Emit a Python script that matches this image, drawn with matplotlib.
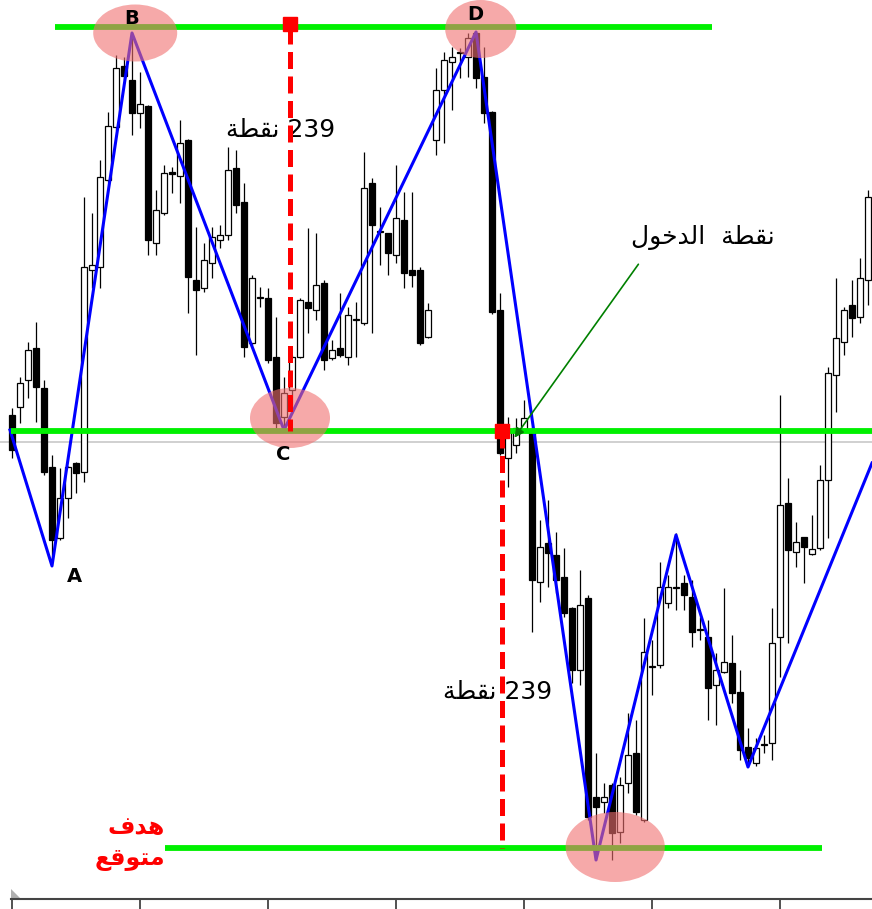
import numpy as np
import matplotlib
matplotlib.use("Agg")
import matplotlib.pyplot as plt
from matplotlib.patches import Rectangle, Ellipse, Polygon

# ======================================================
# Candle data (bar index 0..107), price units
# ======================================================
opens = [585, 593, 620, 652, 612, 533, 462, 502, 537, 528,
         730, 733, 820, 873, 934, 920, 887, 894, 757, 787,
         828, 824, 860, 720, 712, 737, 760, 765, 832, 798,
         657, 702, 702, 643, 583, 610, 643, 698, 690, 717,
         642, 652, 643, 680, 677, 817, 768, 767, 745, 780,
         730, 730, 663, 860, 910, 938, 947, 943, 967, 923,
         888, 690, 542, 555, 570, 570, 418, 457, 445, 423,
         392, 330, 402, 203, 198, 215, 168, 217, 247, 180,
         333, 335, 397, 412, 417, 403, 370, 363, 315, 328,
         337, 308, 253, 237, 255, 257, 363, 497, 448, 463,
         446, 452, 520, 625, 658, 695, 683, 720]
highs = [592, 623, 658, 678, 620, 545, 532, 534, 538, 803,
         787, 840, 888, 945, 943, 966, 928, 895, 810, 835,
         833, 880, 861, 773, 757, 773, 775, 853, 850, 817,
         725, 713, 712, 683, 623, 645, 702, 772, 767, 720,
         660, 707, 693, 698, 848, 822, 793, 767, 835, 808,
         808, 733, 697, 932, 948, 953, 952, 967, 969, 953,
         889, 707, 583, 582, 600, 573, 480, 500, 468, 452,
         393, 430, 405, 247, 217, 217, 223, 287, 280, 382,
         360, 438, 425, 467, 425, 420, 383, 380, 347, 412,
         365, 330, 272, 262, 265, 392, 605, 522, 478, 463,
         485, 535, 633, 722, 693, 720, 742, 810]
lows = [542, 577, 602, 578, 525, 438, 460, 482, 507, 518,
        712, 712, 818, 870, 920, 865, 872, 745, 745, 785,
        807, 797, 687, 645, 708, 722, 752, 760, 787, 643,
        655, 693, 637, 572, 570, 587, 642, 667, 680, 630,
        640, 643, 635, 643, 675, 667, 735, 725, 737, 712,
        713, 655, 662, 845, 857, 890, 922, 923, 912, 877,
        686, 545, 513, 547, 568, 368, 398, 413, 407, 383,
        317, 315, 180, 140, 187, 140, 157, 207, 185, 178,
        305, 332, 392, 390, 390, 353, 360, 280, 275, 327,
        297, 240, 233, 234, 247, 240, 323, 357, 433, 417,
        445, 450, 462, 588, 645, 663, 677, 695]
closes = [550, 617, 650, 613, 528, 460, 502, 533, 527, 733,
          735, 823, 874, 932, 924, 887, 896, 760, 790, 827,
          826, 857, 723, 710, 740, 763, 765, 830, 795, 653,
          722, 703, 640, 577, 607, 643, 700, 692, 715, 640,
          650, 645, 685, 680, 812, 775, 768, 747, 782, 727,
          725, 657, 690, 910, 940, 943, 947, 962, 922, 887,
          688, 547, 570, 572, 582, 420, 453, 447, 420, 387,
          330, 395, 183, 193, 203, 167, 215, 245, 188, 348,
          333, 413, 413, 412, 405, 368, 370, 312, 330, 338,
          307, 250, 242, 252, 255, 357, 495, 450, 458, 453,
          451, 520, 627, 662, 690, 682, 722, 803]

# zigzag pivots: bar index / price
zz_idx = [-0.25, 5, 15, 34, 58, 73, 83, 92, 107.5]
zz_price = [570, 434, 967, 570, 968, 140, 465, 233, 537]
pivot_names = ["A", "B", "C", "D"]

# horizontal levels
level_top = 973
level_neck = 569
level_target = 152
bid_price = 558

# Arabic labels (presentation forms, visual order)
TXT_POINTS = "\uFE94\uFEC4\uFED8\uFEE7 239"                          # 239 نقطة
TXT_ENTRY = "\uFEDD\uFEEE\uFEA7\uFEAA\uFEDF\uFE8D  \uFE94\uFEC4\uFED8\uFEE7"  # نقطة الدخول
TXT_TARGET1 = "\uFED1\uFEAA\uFEEB"                                   # هدف
TXT_TARGET2 = "\uFECA\uFED7\uFEEE\uFE98\uFEE3"                       # متوقع

# ======================================================
# FIGURE
# ======================================================
fig = plt.figure(figsize=(8.72, 9.09), dpi=100)
ax = fig.add_axes([0, 10 / 909, 1, 899 / 909])
ax.set_xlim(-1.5, 107.5)
ax.set_ylim(101, 1000)

for s in ["top", "left", "right"]:
    ax.spines[s].set_visible(False)
ax.spines["bottom"].set_color("#444444")
ax.spines["bottom"].set_linewidth(1.5)
ax.spines["bottom"].set_bounds(-0.1, 107.5)
ax.set_xticks(np.arange(0, 108, 16))
ax.set_xticklabels([])
ax.set_yticks([])
ax.tick_params(axis="x", direction="out", length=7.5, width=1.1, color="#222222")

# bid line
ax.axhline(bid_price, color="#c8c8c8", lw=1.2, zorder=1)

# candles
body_w = 0.68
for i, (o, h, l, c) in enumerate(zip(opens, highs, lows, closes)):
    ax.vlines(i, l, h, color="black", lw=0.9, zorder=2)
    bull = c >= o
    ax.add_patch(Rectangle((i - body_w / 2, min(o, c)), body_w, max(abs(c - o), 0.6),
                           facecolor="white" if bull else "black",
                           edgecolor="black", lw=0.9, zorder=2.5))

# zigzag
ax.plot(zz_idx, zz_price, color="#0000ff", lw=2.2, zorder=3)

# green levels
ax.hlines(level_top, 5.4, 87.5, color="#00f000", lw=4.2, zorder=4)
ax.hlines(level_neck, -0.1, 107.5, color="#00f000", lw=4.2, zorder=4)
ax.hlines(level_target, 19.1, 101.25, color="#00f000", lw=4.2, zorder=4)

# highlight circles
for cx, cy, w, hgt in [(15.4, 967, 10.5, 57), (58.6, 971, 8.9, 58),
                       (34.75, 582, 10.0, 60), (75.4, 153, 12.4, 70)]:
    ax.add_patch(Ellipse((cx, cy), w, hgt, facecolor="#f07070", alpha=0.6,
                         edgecolor="none", zorder=5))

# red measured moves
ax.plot([34.75, 34.75], [level_top, level_neck], color="red", lw=3.6,
        linestyle=(0, (3.4, 1.5)), zorder=6)
ax.plot([61.25, 61.25], [level_neck, level_target], color="red", lw=3.6,
        linestyle=(0, (3.4, 1.5)), zorder=6)
ax.plot([34.75], [976], marker="s", ms=10.5, color="red", zorder=6.5)
ax.plot([61.25], [level_neck], marker="s", ms=10.5, color="red", zorder=6.5)

# pivot letters
for name, x, y in zip(pivot_names, [7.75, 14.9, 33.9, 57.9], [423, 982, 545, 986]):
    ax.text(x, y, name, fontsize=14, fontweight="bold", ha="center", va="center", zorder=7)

ax.text(33.6, 870, TXT_POINTS, fontsize=18, ha="center", va="center",
        family=["DejaVu Sans"], zorder=5.5)
ax.text(60.7, 308, TXT_POINTS, fontsize=18, ha="center", va="center",
        family=["DejaVu Sans"], zorder=5.5)
ax.text(86.4, 763, TXT_ENTRY, fontsize=18, ha="center", va="center",
        family=["DejaVu Sans"], zorder=7)
ax.text(19.1, 173, TXT_TARGET1, fontsize=17, fontweight="bold", color="red",
        ha="right", va="center", family=["DejaVu Sans"], zorder=7)
ax.text(19.1, 141, TXT_TARGET2, fontsize=17, fontweight="bold", color="red",
        ha="right", va="center", family=["DejaVu Sans"], zorder=7)

# entry arrow
ax.annotate("", xy=(62.6, 560), xytext=(78.5, 738),
            arrowprops=dict(arrowstyle="-|>", color="#008000", lw=1.2,
                            mutation_scale=14), zorder=7)

# shift marker
ax.add_patch(Polygon([(-0.15, 111), (-0.15, 101), (1.1, 101)], closed=True,
                     facecolor="#b0b0b0", edgecolor="none", clip_on=False))

fig.savefig("out.png", dpi=100)
